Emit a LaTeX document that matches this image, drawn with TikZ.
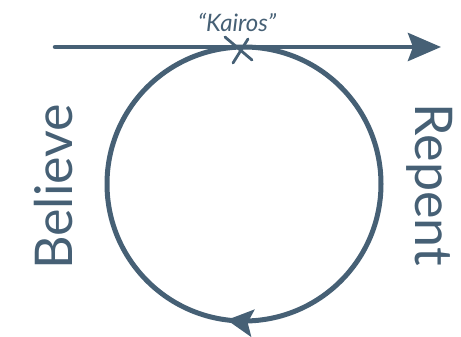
\documentclass[tikz,border=0pt]{standalone}
\usepackage{fontspec}
\setmainfont{Lato}
\usetikzlibrary{arrows.meta,decorations.markings}
\definecolor{slate}{RGB}{70,96,117}
\tikzset{
  brush/.style={draw=slate, line cap=round},
  bigword/.style={text=slate, font=\fontsize{52}{52}\selectfont, inner sep=0pt, anchor=base},
}
\begin{document}
\begin{tikzpicture}[x=1pt,y=-1pt]
\useasboundingbox (0,0) rectangle (461,337);
% cycle
\coordinate (cyc) at (244,184);
\draw[brush, line width=5pt, postaction={decorate},
  decoration={markings, mark=at position 0.27 with {\arrow[slate]{Stealth[length=26pt,width=27pt,inset=5pt]}}}]
  (cyc) circle (137);
% time line
\coordinate (hs) at (55,47);
\coordinate (he) at (441,47);
\draw[brush, line width=4.5pt, -{Stealth[length=33pt,width=28pt,inset=5pt]}] (hs) -- (he);
% kairos mark
\coordinate (kx) at (238,48);
\draw[brush, line width=2.8pt] (kx) ++(-13,-11) -- ++(27,23);
\draw[brush, line width=2.8pt] (kx) ++(10,-9) -- ++(-15,24);
\node[text=slate, font=\itshape\fontsize{24}{24}\selectfont, inner sep=0pt, anchor=base] (kairos) at (237,32) {“Kairos”};
% words
\node[bigword, rotate=90] (believe) at (72,187) {Believe};
\node[bigword, rotate=-90] (repent) at (415,185) {Repent};
\end{tikzpicture}
\end{document}
